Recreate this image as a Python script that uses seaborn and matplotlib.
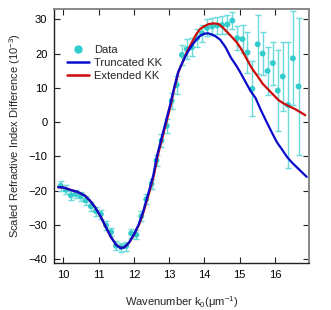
import matplotlib
matplotlib.use("Agg")
import matplotlib.pyplot as plt
from matplotlib.lines import Line2D
import seaborn as sns
import pandas as pd

sns.set_theme(style="ticks")
plt.rcParams["font.family"] = ["Liberation Sans", "DejaVu Sans"]
plt.rcParams["mathtext.default"] = "regular"

# measured data with error bars
k_data = [9.92, 10.07, 10.21, 10.35, 10.49, 10.63, 10.78, 10.92, 11.06, 11.21,
          11.35, 11.49, 11.64, 11.78, 11.92, 12.07, 12.21, 12.35, 12.50, 12.64,
          12.78, 12.93, 13.07, 13.21, 13.36, 13.50, 13.64, 13.79, 13.93, 14.07,
          14.22, 14.36, 14.50, 14.65, 14.79, 14.93, 15.08, 15.22, 15.36, 15.51,
          15.65, 15.79, 15.94, 16.08, 16.22, 16.37, 16.51, 16.67]
n_data = [-18.6, -19.8, -21.4, -21.0, -21.7, -22.9, -24.6, -26.0, -26.9, -30.2,
          -32.1, -36.1, -36.5, -36.2, -32.5, -32.9, -27.5, -22.5, -18.0, -11.2,
          -5.4, -1.1, 6.2, 10.8, 19.6, 21.3, 21.8, 24.5, 25.9, 27.5,
          27.9, 28.2, 28.3, 28.5, 29.6, 24.5, 24.2, 20.3, 9.7, 22.7,
          20.0, 14.9, 17.2, 9.2, 13.3, 5.0, 18.6, 10.4]
n_err = [1.4, 1.3, 1.3, 1.2, 1.2, 1.2, 1.3, 1.3, 1.3, 1.3,
         1.3, 1.3, 1.3, 1.3, 1.3, 1.3, 1.4, 1.5, 1.5, 1.6,
         1.8, 2.0, 2.3, 2.5, 3.0, 2.8, 2.6, 2.6, 2.5, 2.5,
         2.6, 2.6, 2.6, 2.7, 2.5, 3.5, 4.0, 6.0, 8.0, 8.6,
         6.2, 7.0, 6.3, 11.8, 10.2, 18.4, 13.7, 20.0]

# truncated KK curve
k_trunc = [9.85, 10.0, 10.2, 10.4, 10.6, 10.75, 10.9, 11.05, 11.2, 11.35,
           11.5, 11.62, 11.72, 11.85, 12.0, 12.13, 12.25, 12.43, 12.55, 12.65,
           12.78, 12.9, 13.02, 13.14, 13.25, 13.38, 13.5, 13.62, 13.75, 13.88,
           14.0, 14.1, 14.2, 14.32, 14.45, 14.6, 14.75, 14.9, 15.0, 15.15,
           15.3, 15.45, 15.6, 15.75, 15.9, 16.05, 16.2, 16.35, 16.5, 16.65,
           16.8, 16.9]
n_trunc = [-19.0, -19.1, -19.8, -20.4, -21.4, -22.9, -24.9, -27.5, -30.6, -33.6,
           -35.9, -36.8, -36.6, -35.3, -32.8, -30.0, -26.5, -20.0, -15.5, -10.0,
           -4.8, 0.0, 4.8, 10.0, 14.5, 17.5, 20.0, 22.0, 23.8, 25.2,
           25.8, 25.9, 25.6, 25.0, 24.0, 21.8, 18.8, 16.5, 14.8, 12.0,
           9.2, 7.0, 3.5, 0.3, -2.8, -5.8, -8.0, -10.3, -12.0, -13.5,
           -15.0, -16.0]

# extended KK curve
k_ext = [9.85, 10.0, 10.2, 10.4, 10.6, 10.75, 10.9, 11.05, 11.2, 11.35,
         11.5, 11.64, 11.75, 11.88, 12.02, 12.15, 12.27, 12.45, 12.57, 12.67,
         12.8, 12.92, 13.04, 13.15, 13.27, 13.4, 13.52, 13.64, 13.76, 13.88,
         14.0, 14.12, 14.26, 14.4, 14.52, 14.64, 14.78, 14.92, 15.05, 15.2,
         15.35, 15.5, 15.65, 15.8, 15.95, 16.1, 16.25, 16.4, 16.55, 16.7,
         16.86]
n_ext = [-19.0, -19.1, -19.8, -20.4, -21.4, -22.9, -24.9, -27.5, -30.6, -33.6,
         -35.9, -36.8, -36.4, -35.0, -32.5, -29.8, -26.3, -20.0, -15.3, -10.0,
         -4.8, 0.0, 4.8, 10.0, 14.8, 18.0, 20.8, 23.2, 25.5, 27.2,
         28.0, 28.6, 28.8, 28.6, 27.6, 26.3, 24.8, 23.2, 21.2, 18.4,
         15.6, 13.5, 11.2, 9.6, 8.0, 6.4, 5.4, 4.6, 3.9, 3.0,
         2.0]

CYAN = "#33CCCC"
CYAN_BAR = "#6ADADA"
BLUE = "#0A0ACC"
RED = "#CC0A0A"

fig = plt.figure(figsize=(3.31, 3.10), dpi=100)
ax = fig.add_axes([0.164, 0.152, 0.770, 0.819])

ax.errorbar(k_data, n_data, yerr=n_err, fmt="none", ecolor=CYAN_BAR,
            elinewidth=1.0, capsize=2.5, capthick=1.0, zorder=2)
sns.scatterplot(x=k_data, y=n_data, color=CYAN, s=18, edgecolor="none",
                ax=ax, zorder=3)

ext = pd.DataFrame({"k": k_ext, "n": n_ext})
trunc = pd.DataFrame({"k": k_trunc, "n": n_trunc})
sns.lineplot(data=ext, x="k", y="n", color=RED, linewidth=1.6, sort=False,
             ax=ax, zorder=4)
sns.lineplot(data=trunc, x="k", y="n", color=BLUE, linewidth=1.6, sort=False,
             ax=ax, zorder=5)

ax.set_xlim(9.74, 16.97)
ax.set_ylim(-41.1, 33.0)
ax.set_xticks([10, 11, 12, 13, 14, 15, 16])
ax.set_yticks([-40, -30, -20, -10, 0, 10, 20, 30])
ax.tick_params(direction="in", length=4.5, width=0.8, labelsize=8,
               top=True, right=True, color="#222222", labelcolor="black",
               pad=5)

for side in ["left", "bottom"]:
    ax.spines[side].set_color("#222222")
    ax.spines[side].set_linewidth(1.0)
for side in ["top", "right"]:
    ax.spines[side].set_color("#888888")
    ax.spines[side].set_linewidth(1.4)

ax.set_xlabel("Wavenumber k$_0$($\\mu$m$^{-1}$)", fontsize=8, labelpad=10)
ax.set_ylabel("Scaled Refractive Index Difference (10$^{-3}$)", fontsize=8,
              labelpad=4)

handles = [
    Line2D([], [], marker="o", color=CYAN, linestyle="none", markersize=5),
    Line2D([], [], color=BLUE, linewidth=1.8),
    Line2D([], [], color=RED, linewidth=1.8),
]
ax.legend(handles, ["Data", "Truncated KK", "Extended KK"], loc="upper left",
          bbox_to_anchor=(0.05, 0.86), frameon=False, fontsize=8,
          handlelength=2.0, handletextpad=0.45, labelspacing=0.3,
          borderaxespad=0, borderpad=0)

fig.savefig("out.png", dpi=100)
